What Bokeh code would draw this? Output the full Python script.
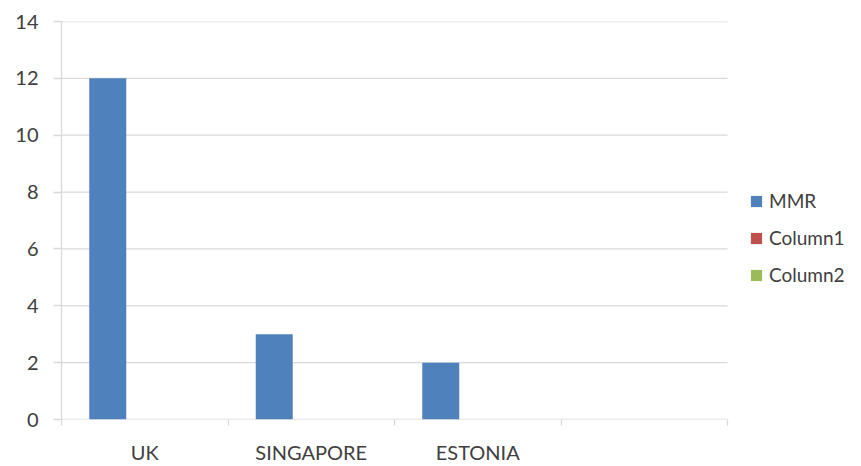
from bokeh.plotting import figure
from bokeh.models import FixedTicker, Legend, LegendItem, ColumnDataSource, Range1d
from bokeh.transform import dodge
from bokeh.embed import file_html
from bokeh.resources import INLINE

categories = ["UK", "SINGAPORE", "ESTONIA", ""]
mmr = [12, 3, 2, 0]
column1 = [0, 0, 0, 0]
column2 = [0, 0, 0, 0]
series_names = ["MMR", "Column1", "Column2"]
colors = ["#4f81bd", "#c0504d", "#9bbb59"]
y_ticks = [0, 2, 4, 6, 8, 10, 12, 14]

FONT = "Lato"
TXT = "#404040"
GRID = "#d9d9d9"

n = len(categories)
xs = [i + 0.5 for i in range(n)]
src = ColumnDataSource(dict(x=xs, MMR=mmr, Column1=column1, Column2=column2))

# frame spans to the right edge so the legend can sit beside the plotted area
plot_px = 666
frame_px = 861 - 61
x_end = n * frame_px / plot_px

p = figure(width=861, height=466, output_backend="svg", toolbar_location=None,
           x_range=Range1d(0, x_end), y_range=Range1d(0, 14),
           min_border_left=61, min_border_right=0, min_border_top=21, min_border_bottom=44)
p.outline_line_color = None
p.background_fill_color = "white"
p.border_fill_color = "white"

# horizontal gridlines limited to the category area
p.segment(x0=[0] * len(y_ticks), x1=[n] * len(y_ticks), y0=y_ticks, y1=y_ticks,
          line_color=GRID, line_width=1.3)

bw = 1 / 4.5
offsets = [-bw, 0, bw]
renderers = []
for name, col, off in zip(series_names, colors, offsets):
    r = p.vbar(x=dodge("x", off, range=p.x_range), top=name, bottom=0, width=bw,
               source=src, fill_color=col, line_color=None)
    renderers.append(r)

# x axis
p.xaxis.ticker = FixedTicker(ticks=xs, minor_ticks=list(range(n + 1)))
p.xaxis.major_label_overrides = {x: c for x, c in zip(xs, categories)}
p.xaxis.major_tick_line_color = None
p.xaxis.minor_tick_line_color = GRID
p.xaxis.minor_tick_line_width = 1.3
p.xaxis.minor_tick_out = 6
p.xaxis.minor_tick_in = 0
p.xaxis.axis_line_color = None
p.xaxis.major_label_standoff = 14
p.xgrid.visible = False
p.ygrid.visible = False

# y axis
p.yaxis.ticker = FixedTicker(ticks=y_ticks)
p.yaxis.major_tick_line_color = GRID
p.yaxis.major_tick_line_width = 1.3
p.yaxis.major_tick_out = 8
p.yaxis.major_tick_in = 0
p.yaxis.minor_tick_line_color = None
p.yaxis.axis_line_color = GRID
p.yaxis.axis_line_width = 1.3
p.yaxis.major_label_standoff = 15

for ax in (p.xaxis, p.yaxis):
    ax.major_label_text_font = FONT
    ax.major_label_text_font_size = "20px"
    ax.major_label_text_color = TXT

legend = Legend(items=[LegendItem(label=s, renderers=[r]) for s, r in zip(series_names, renderers)],
                location=(688, 133), border_line_color=None, background_fill_alpha=0,
                label_text_font=FONT, label_text_font_size="19px", label_text_color=TXT,
                glyph_width=14, glyph_height=14, spacing=14, label_standoff=6, padding=0,
                margin=0)
p.add_layout(legend, "center")

open("out.html", "w").write(file_html(p, INLINE))
